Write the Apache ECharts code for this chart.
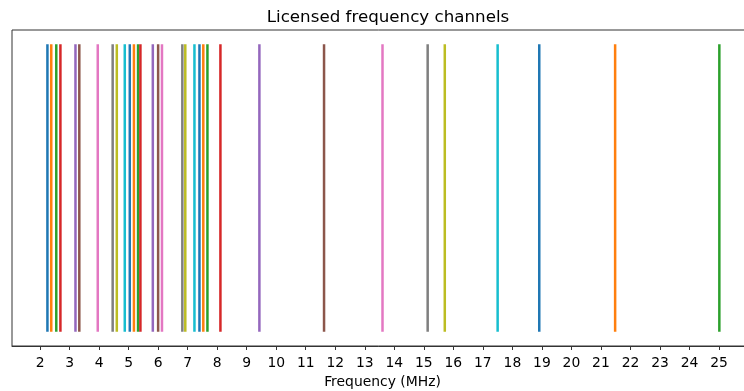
<!DOCTYPE html>
<html>
<head>
<meta charset="utf-8">
<script src="https://cdn.jsdelivr.net/npm/echarts@6/dist/echarts.min.js"></script>
<style>
html,body{margin:0;padding:0;background:#fff;}
#chart{width:744px;height:391px;}
</style>
</head>
<body>
<div id="chart"></div>
<script>
// Licensed channel frequencies (MHz), sorted
const frequencies = [2.25, 2.38, 2.55, 2.69, 3.20, 3.33, 3.955, 4.46, 4.60, 4.87, 5.04, 5.18, 5.32, 5.40, 5.82, 6.00, 6.13, 6.82, 6.92, 7.23, 7.40, 7.53, 7.67, 8.11, 9.43, 11.62, 13.60, 15.13, 15.71, 17.50, 18.91, 21.48, 25.01];
const tickValues = [2,3,4,5,6,7,8,9,10,11,12,13,14,15,16,17,18,19,20,21,22,23,24,25];
const palette = ['#1f77b4','#ff7f0e','#2ca02c','#d62728','#9467bd','#8c564b','#e377c2','#7f7f7f','#bcbd22','#17becf'];

const FONT = 'DejaVu Sans';
const chart = echarts.init(document.getElementById('chart'), null, {renderer:'canvas'});
const series = frequencies.map((f, i) => ({
  type: 'line',
  data: [[f, 0], [f, 1]],
  symbol: 'none',
  silent: true,
  animation: false,
  lineStyle: { color: palette[i % palette.length], width: 2.5, cap: 'butt' }
}));
chart.setOption({
  animation: false,
  backgroundColor: '#fff',
  title: {
    text: 'Licensed frequency channels',
    left: 383, top: 4, textAlign: 'center',
    textStyle: { fontFamily: FONT, fontSize: 16.7, fontWeight: 'normal', color: '#000' }
  },
  grid: {
    left: 12, top: 30, width: 741, height: 316,
    outerBoundsMode: 'none', containLabel: false,
    show: true, borderColor: '#333', borderWidth: 1, backgroundColor: 'transparent'
  },
  xAxis: {
    type: 'value', min: 1.05, max: 26.15,
    name: 'Frequency (MHz)', nameLocation: 'middle', nameGap: 29,
    nameTextStyle: { fontFamily: FONT, fontSize: 13.9, color: '#000' },
    axisLine: { show: true, onZero: false, lineStyle: { color: '#333', width: 1 } },
    axisTick: { show: true, length: 4, customValues: tickValues, lineStyle: { color: '#333' } },
    axisLabel: { customValues: tickValues, fontFamily: FONT, fontSize: 13.9, color: '#000', margin: 10 },
    splitLine: { show: false }
  },
  yAxis: {
    type: 'value', min: -0.05, max: 1.05,
    axisLine: { show: false }, axisTick: { show: false }, axisLabel: { show: false }, splitLine: { show: false }
  },
  series: series
});
</script>
</body>
</html>
